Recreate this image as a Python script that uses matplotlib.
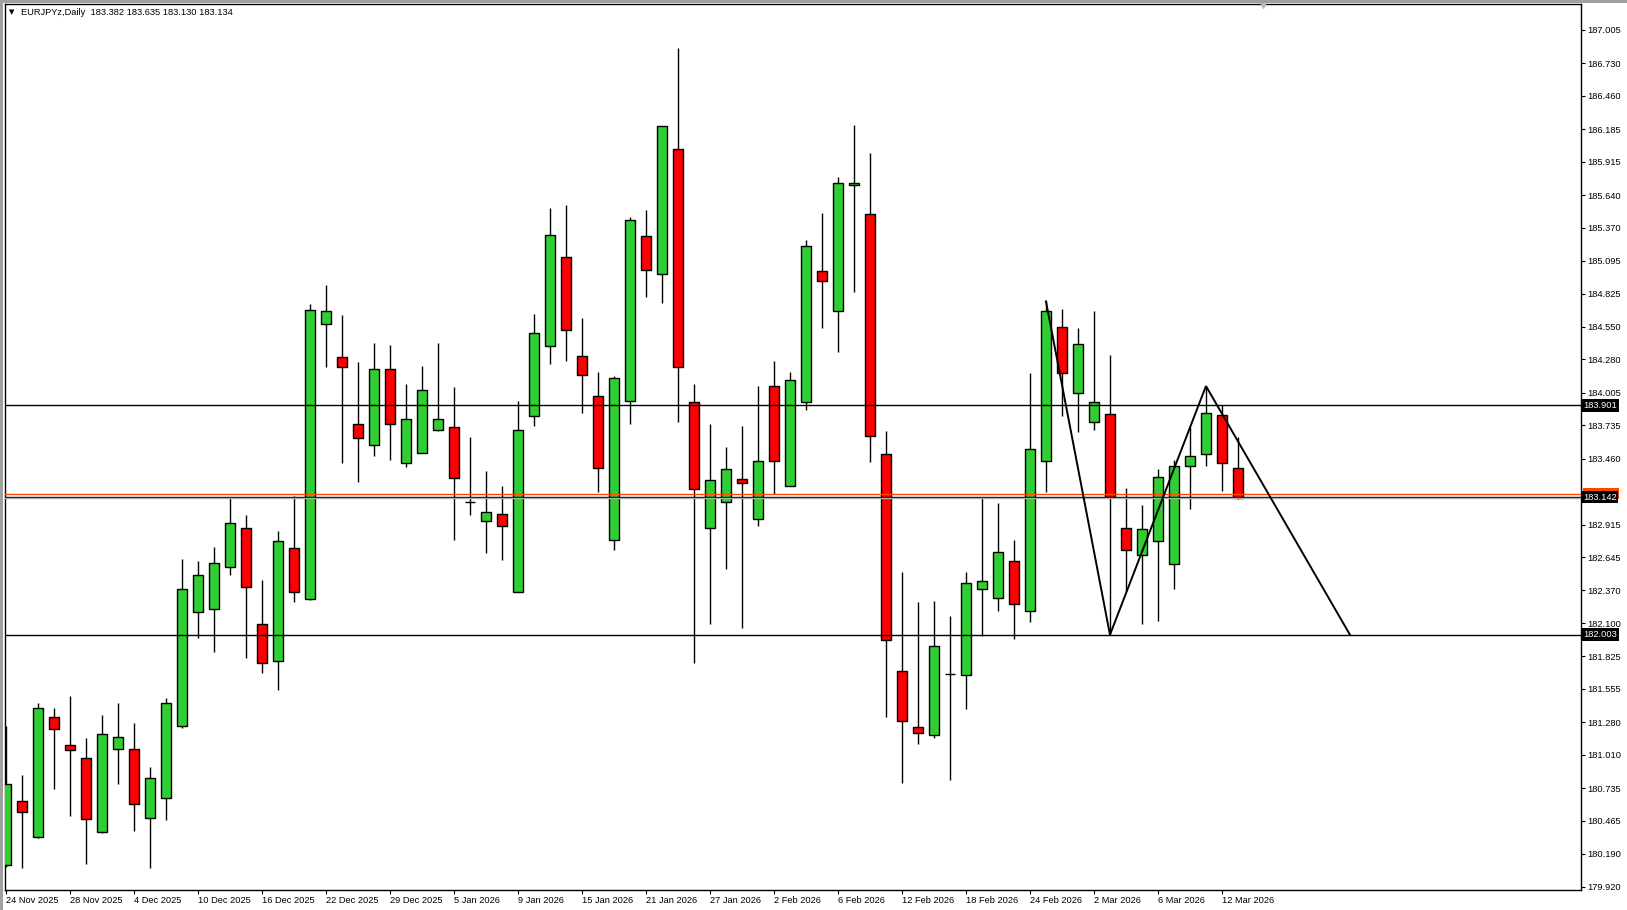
import matplotlib
matplotlib.use("Agg")
import matplotlib.pyplot as plt
from matplotlib.patches import Rectangle
import numpy as np

# EURJPYz daily candles, 24 Nov 2025 .. 13 Mar 2026 (one bar per trading day)
opens = [180.10, 180.63, 180.33, 181.32, 181.09, 180.98, 180.37, 181.06, 181.06, 180.49,
         180.65, 181.25, 182.19, 182.22, 182.56, 182.89, 182.09, 181.79, 182.72, 182.30,
         184.57, 184.30, 183.75, 183.57, 184.20, 183.42, 183.51, 183.70, 183.72, 183.10,
         182.94, 183.00, 182.36, 183.81, 184.39, 185.13, 184.31, 183.98, 182.79, 183.94,
         185.30, 184.99, 186.02, 183.93, 182.89, 183.10, 183.29, 182.96, 184.06, 183.23,
         183.93, 185.01, 184.68, 185.72, 185.48, 183.50, 181.70, 181.24, 181.17, 181.68,
         181.67, 182.38, 182.31, 182.61, 182.20, 183.44, 184.55, 184.00, 183.76, 183.83,
         182.89, 182.66, 182.78, 182.59, 183.40, 183.50, 183.82, 183.382]
highs = [181.25, 180.84, 181.44, 181.40, 181.50, 181.15, 181.34, 181.44, 181.27, 180.91,
         181.48, 182.63, 182.61, 182.73, 183.14, 182.99, 182.46, 182.86, 183.15, 184.74,
         184.90, 184.65, 184.26, 184.42, 184.40, 184.08, 184.23, 184.42, 184.05, 183.64,
         183.36, 183.23, 183.94, 184.66, 185.53, 185.56, 184.62, 184.18, 184.14, 185.46,
         185.52, 186.21, 186.86, 184.08, 183.75, 183.56, 183.73, 184.06, 184.27, 184.18,
         185.27, 185.49, 185.79, 186.22, 185.99, 183.69, 182.52, 182.27, 182.28, 182.16,
         182.52, 183.14, 183.09, 182.79, 184.17, 184.76, 184.70, 184.54, 184.68, 184.32,
         183.22, 183.08, 183.37, 183.45, 183.72, 184.06, 183.90, 183.635]
lows = [180.08, 180.07, 180.32, 180.73, 180.50, 180.11, 180.36, 180.77, 180.38, 180.07,
        180.47, 181.23, 181.98, 181.86, 182.50, 181.81, 181.69, 181.55, 182.27, 182.29,
        184.22, 183.42, 183.27, 183.48, 183.45, 183.39, 183.51, 183.69, 182.79, 182.99,
        182.68, 182.62, 182.36, 183.73, 184.24, 184.27, 183.84, 183.18, 182.70, 183.75,
        184.80, 184.75, 183.76, 181.77, 182.09, 182.55, 182.06, 182.90, 183.17, 183.23,
        183.86, 184.54, 184.34, 184.84, 183.43, 181.32, 180.78, 181.10, 181.15, 180.80,
        181.39, 181.99, 182.20, 181.97, 182.11, 183.18, 183.81, 183.68, 183.70, 182.01,
        182.36, 182.09, 182.12, 182.38, 183.04, 183.40, 183.19, 183.130]
closes = [180.77, 180.54, 181.40, 181.22, 181.05, 180.48, 181.18, 181.16, 180.60, 180.82,
          181.44, 182.38, 182.50, 182.60, 182.93, 182.40, 181.77, 182.78, 182.36, 184.69,
          184.68, 184.22, 183.63, 184.20, 183.75, 183.79, 184.03, 183.79, 183.30, 183.10,
          183.02, 182.90, 183.70, 184.50, 185.31, 184.52, 184.15, 183.38, 184.13, 185.43,
          185.02, 186.21, 184.22, 183.21, 183.28, 183.37, 183.26, 183.44, 183.44, 184.11,
          185.22, 184.93, 185.74, 185.74, 183.65, 181.96, 181.29, 181.19, 181.91, 181.68,
          182.43, 182.45, 182.69, 182.26, 183.54, 184.68, 184.17, 184.41, 183.93, 183.14,
          182.70, 182.88, 183.31, 183.40, 183.48, 183.84, 183.42, 183.134]

date_labels = ["24 Nov 2025", "28 Nov 2025", "4 Dec 2025", "10 Dec 2025", "16 Dec 2025",
               "22 Dec 2025", "29 Dec 2025", "5 Jan 2026", "9 Jan 2026", "15 Jan 2026",
               "21 Jan 2026", "27 Jan 2026", "2 Feb 2026", "6 Feb 2026", "12 Feb 2026",
               "18 Feb 2026", "24 Feb 2026", "2 Mar 2026", "6 Mar 2026", "12 Mar 2026"]
price_ticks = [187.005, 186.730, 186.460, 186.185, 185.915, 185.640, 185.370, 185.095,
               184.825, 184.550, 184.280, 184.005, 183.735, 183.460, 183.190, 182.915,
               182.645, 182.370, 182.100, 181.825, 181.555, 181.280, 181.010, 180.735,
               180.465, 180.190, 179.920]
hidden_tick = 183.190  # covered by the price labels in the terminal

levels = [183.901, 183.142, 182.003]
bid, ask = 183.134, 183.171
# zigzag drawn on the chart: (bar index, price)
zz_bars = [65, 69, 75, 84]
zz_prices = [184.76, 182.003, 184.06, 182.003]

header = "EURJPYz,Daily  183.382 183.635 183.130 183.134"

W, H = 1627, 910
FONT = "Liberation Sans"
GREEN = "#32CD32"
RED = "#FF0000"

o = np.array(opens)
h = np.array(highs)
l = np.array(lows)
c = np.array(closes)
x = np.arange(len(o))

fig = plt.figure(figsize=(W / 100, H / 100), dpi=100)
fig.patch.set_facecolor("white")

# plot area in pixels: left 5, right 1581, top 4, bottom 890
ax = fig.add_axes([5 / W, 1 - 890 / H, (1581 - 5) / W, (890 - 4) / H])
ax.set_xlim(-0.0625, 98.44)
ax.set_ylim(179.892, 187.220)

# wicks then bodies
ax.vlines(x, l, h, color="black", linewidth=1.0, zorder=2)
up = c >= o
dn = ~up
ax.bar(x[up], (c - o)[up], bottom=o[up], width=0.6, color=GREEN,
       edgecolor="black", linewidth=1.0, zorder=3)
ax.bar(x[dn], (c - o)[dn], bottom=o[dn], width=0.6, color=RED,
       edgecolor="black", linewidth=1.0, zorder=3)

# horizontal lines
for lv in levels:
    ax.axhline(lv, color="black", linewidth=1.0, zorder=4)
ax.axhline(bid, color="#B0B0B0", linewidth=1.0, zorder=4)
ax.axhline(ask, color="#FF4500", linewidth=1.0, zorder=4)

# zigzag trendlines
ax.plot(zz_bars, zz_prices, color="black", linewidth=1.4, zorder=5,
        solid_joinstyle="miter")

# axes styling
for s in ax.spines.values():
    s.set_color("black")
    s.set_linewidth(1.0)
ax.yaxis.tick_right()
ax.set_yticks(price_ticks)
ax.set_yticklabels(["" if v == hidden_tick else f"{v:.3f}" for v in price_ticks],
                   fontfamily=FONT, fontsize=6.7)
ax.tick_params(axis="y", direction="out", length=3, width=0.8, pad=1.5, colors="black")
ax.set_xticks(x[::4][:len(date_labels)])
ax.set_xticklabels(date_labels, fontfamily=FONT, fontsize=6.7, ha="left")
ax.tick_params(axis="x", direction="out", length=3, width=0.8, pad=1.5, colors="black")

# price labels on the right axis
trans = ax.get_yaxis_transform()
dx = 2 / (1581 - 5)
box_h = 11 / 120.9
ax.add_patch(Rectangle((1 + dx, ask - box_h / 2), 36 / (1581 - 5), box_h,
                       transform=trans, fc="#FF4500", ec="none",
                       clip_on=False, zorder=6))
for lv in levels:
    ax.text(1 + dx, lv, f"{lv:.3f}", transform=trans, ha="left", va="center",
            fontfamily=FONT, fontsize=6.7, color="white", clip_on=False, zorder=7,
            bbox=dict(boxstyle="square,pad=0.2", fc="black", ec="none"))

# chart shift marker on the top border
ax.plot([78.56], [1.0], marker="v", markersize=6, color="#B8B8B8",
        transform=ax.get_xaxis_transform(), clip_on=False, zorder=6)

# header
fig.text(9 / W, 1 - 12.5 / H, "\u25bc", fontfamily="DejaVu Sans", fontsize=5,
         va="center", ha="left", color="black")
fig.text(21 / W, 1 - 12.5 / H, header, fontfamily=FONT, fontsize=6.7,
         va="center", ha="left", color="black")

# window frame
fig.add_artist(Rectangle((0, 0), 2.5 / W, 1, transform=fig.transFigure,
                         fc="#A0A0A0", ec="none"))
fig.add_artist(Rectangle((0, 1 - 2.5 / H), 1, 2.5 / H, transform=fig.transFigure,
                         fc="#A0A0A0", ec="none"))

fig.savefig("out.png", dpi=100, facecolor="white")
